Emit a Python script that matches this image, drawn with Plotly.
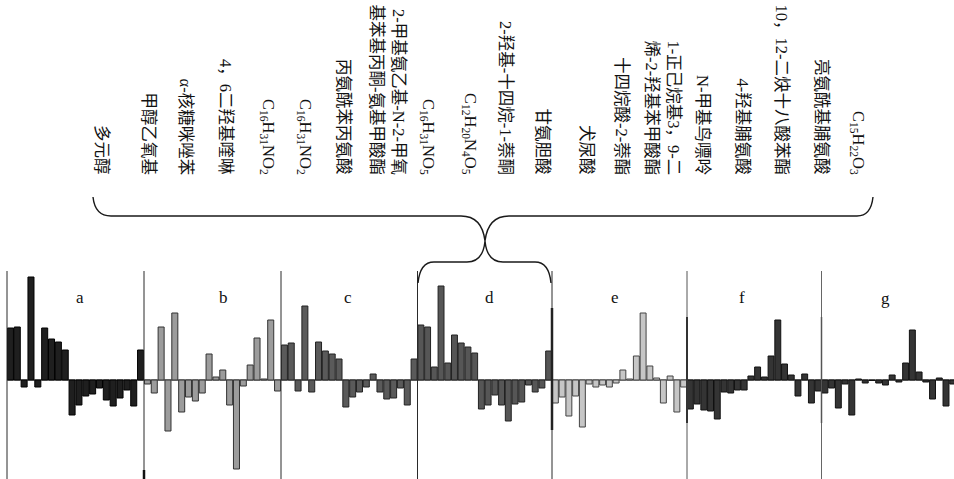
import plotly.graph_objects as go

W, H = 954, 479

# ---------------- data ----------------
panel_names = ["a", "b", "c", "d", "e", "f", "g"]

compound_labels = [
    "多元醇",
    "甲醇乙氧基",
    "α-核糖咪唑苯",
    "4，6二羟基喹啉",
    "C<sub>16</sub>H<sub>31</sub>NO<sub>2</sub>",
    "C<sub>16</sub>H<sub>31</sub>NO<sub>2</sub>",
    "丙氨酰苯丙氨酸",
    "2-甲基氨乙基-N-2-甲氧<br>基苯基丙酮-氨基甲酸酯",
    "C<sub>16</sub>H<sub>31</sub>NO<sub>5</sub>",
    "C<sub>12</sub>H<sub>20</sub>N<sub>4</sub>O<sub>5</sub>",
    "2-羟基-十四烷-1-萘酮",
    "甘氨胆酸",
    "犬尿酸",
    "十四烷酸-2-萘酯",
    "1-正己烷基3，9-二<br>烯-2-羟基苯甲酸酯",
    "N-甲基鸟嘌呤",
    "4-羟基脯氨酸",
    "10，12-二炔十八酸苯酯",
    "亮氨酰基脯氨酸",
    "C<sub>15</sub>H<sub>22</sub>O<sub>3</sub>",
]

vals_a = [52, 53, -7, 103, -7, 52, 41, 38, 30, -35, -25, -16, -14, -8, -20, -26, -18, -10, -26, 30]
vals_b = [-4, -13, 53, -51, 67, -32, -17, -21, -13, 26, 3, 10, -25, -89, -6, 15, 42, 1, 60, -11]
vals_c = [35, 37, -11, 74, -12, 38, 29, 26, 21, -27, -17, -12, -7, 6, -12, -19, -18, -8, -25, 21]
vals_d = [55, 53, 13, 94, 17, 45, 37, 33, 27, -29, -25, -15, -25, -41, -24, -22, -5, -12, -8, 29]
vals_e = [-23, -17, -36, -16, -47, -4, -7, -5, -7, -3, 10, 1, 24, 67, 14, 2, -23, 4, -32, -7]
vals_f = [-29, -24, -30, -31, -39, -12, -13, -10, -10, 4, 13, 3, 24, 60, 16, 5, -16, 6, -23, -11]
vals_g = [-13, -8, -28, -4, -35, 1, -3, -0.5, -3, -5, 5, -2, 17, 50, 8, -2, -19, 2, -26, -4]

panel_values = [vals_a, vals_b, vals_c, vals_d, vals_e, vals_f, vals_g]

# ---------------- styling / layout ----------------
fills = ["#1f1f1f", "#9c9c9c", "#5a5a5a", "#565656", "#c6c6c6", "#343434", "#343434"]
edges = ["#000000", "#333333", "#222222", "#222222", "#444444", "#111111", "#111111"]

seps = [7, 144, 281, 417.5, 552, 687, 821.5]
sep_colors = ["#2a2a2a", "#2a2a2a", "#2a2a2a", "#2a2a2a", "#2a2a2a", "#555555", "#666666"]
panel_right = seps[1:] + [W]
pitch_g = 6.73

label_x = [101, 148, 185, 225, 268, 305, 343, 387, 428, 470, 505, 542,
           586, 621, 662, 702, 742, 781, 821, 858]
label_bottom = 177
letter_pos = [(80, 297), (223, 297), (348, 297), (490, 297), (615, 297), (742, 297), (885, 298)]

top_px, zero_px = 271, 380
FONT = "Liberation Serif, Noto Sans CJK SC, serif"


def px(x, y):
    return x / W, 1 - y / H


fig = go.Figure()
layout_axes = {}
for i, (name, vals) in enumerate(zip(panel_names, panel_values)):
    xa = "x" if i == 0 else f"x{i + 1}"
    fig.add_trace(go.Bar(
        x=list(range(len(vals))), y=vals, xaxis=xa, yaxis="y",
        marker=dict(color=fills[i], line=dict(color=edges[i], width=1)),
        showlegend=False, hoverinfo="skip",
    ))
    left, right = seps[i], panel_right[i]
    if i < 6:
        rng = [-0.5, 19.5]
    else:
        rng = [-0.5, -0.5 + (right - left) / pitch_g]
    key = "xaxis" if i == 0 else f"xaxis{i + 1}"
    layout_axes[key] = dict(domain=[left / W, right / W], range=rng, visible=False,
                            anchor="y", fixedrange=True)

layout_axes["yaxis"] = dict(domain=[0, (H - top_px) / H],
                            range=[-(H - zero_px), zero_px - top_px],
                            visible=False, anchor="x", fixedrange=True)

shapes = []
# zero baseline
x0, y0 = px(seps[0], zero_px)
x1, _ = px(W, zero_px)
shapes.append(dict(type="line", xref="paper", yref="paper", x0=x0, x1=x1, y0=y0, y1=y0,
                   line=dict(color="#222222", width=1), layer="below"))
# panel separators
for s, col in zip(seps, sep_colors):
    a0 = px(s, top_px)
    a1 = px(s, H)
    shapes.append(dict(type="line", xref="paper", yref="paper", x0=a0[0], x1=a1[0],
                       y0=a0[1], y1=a1[1], line=dict(color=col, width=1)))
# darker overlapping segments seen on some separators
for s, ya, yb, wd, col in [(552, 308, 430, 2.5, "#222222"), (687, 317, 423, 2, "#333333"),
                           (821.5, 317, 423, 1.5, "#555555"), (144, 470, 479, 2.5, "#111111")]:
    a0 = px(s, ya)
    a1 = px(s, yb)
    shapes.append(dict(type="line", xref="paper", yref="paper", x0=a0[0], x1=a1[0],
                       y0=a0[1], y1=a1[1], line=dict(color=col, width=wd)))


def path(cmds):
    out = []
    for c in cmds:
        op, pts = c[0], c[1:]
        coords = " ".join(f"{px(x, y)[0]:.5f},{px(x, y)[1]:.5f}" for x, y in pts)
        out.append(f"{op} {coords}")
    return " ".join(out)


big_brace = path([
    ("M", (93, 197)), ("Q", (95, 216), (111, 216)), ("L", (461, 216)),
    ("Q", (482, 216), (485, 241)), ("Q", (488, 216), (509, 216)),
    ("L", (857, 216)), ("Q", (871, 216), (873, 197)),
])
small_brace = path([
    ("M", (418, 283)), ("Q", (420, 262), (434, 262)), ("L", (467, 262)),
    ("Q", (483, 262), (485, 241)), ("Q", (487, 262), (503, 262)),
    ("L", (535, 262)), ("Q", (549, 262), (551, 283)),
])
for p in (big_brace, small_brace):
    shapes.append(dict(type="path", xref="paper", yref="paper", path=p,
                       line=dict(color="#1a1a1a", width=1.4)))

annotations = []
for txt, lx in zip(compound_labels, label_x):
    ax, ay = px(lx, label_bottom)
    annotations.append(dict(
        text=txt, x=ax, y=ay, xref="paper", yref="paper", showarrow=False,
        textangle=90, xanchor="center", yanchor="bottom", align="right",
        font=dict(family=FONT, size=16.5, color="#111111"),
    ))
for name, (lx, ly) in zip(panel_names, letter_pos):
    ax, ay = px(lx, ly)
    annotations.append(dict(
        text=name, x=ax, y=ay, xref="paper", yref="paper", showarrow=False,
        xanchor="center", yanchor="middle",
        font=dict(family=FONT, size=17, color="#111111"),
    ))

fig.update_layout(
    width=W, height=H,
    margin=dict(l=0, r=0, t=0, b=0),
    paper_bgcolor="white", plot_bgcolor="white",
    bargap=0.12, showlegend=False,
    shapes=shapes, annotations=annotations,
    **layout_axes,
)

fig.write_html(
    "out.html",
    config={"displayModeBar": False, "staticPlot": True},
    post_script="document.body.style.margin='0px';document.body.style.overflow='hidden';",
)
